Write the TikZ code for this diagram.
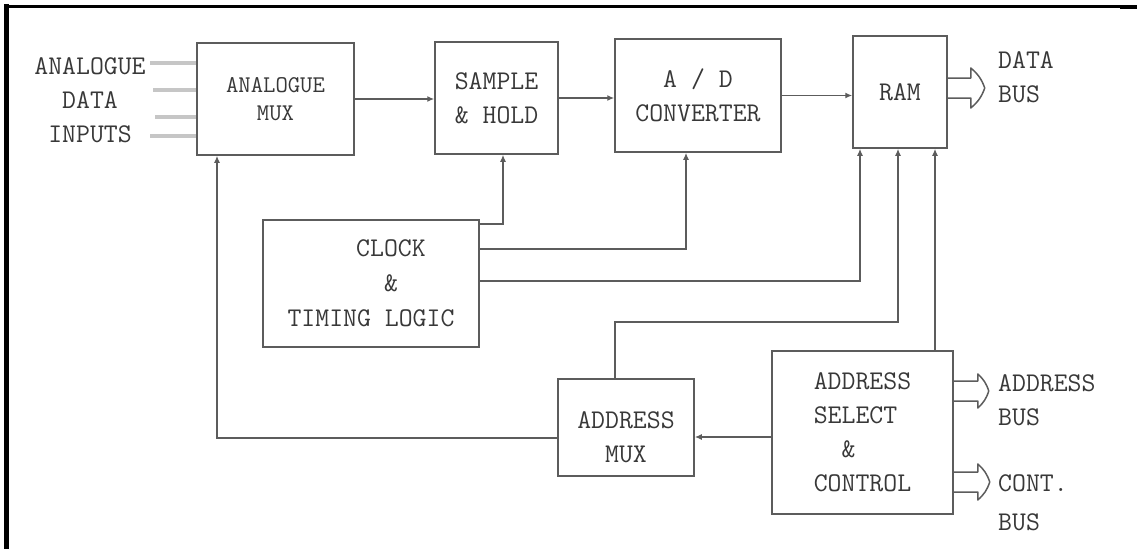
\documentclass[tikz,border=0pt]{standalone}
\usetikzlibrary{arrows.meta}
\definecolor{ink}{gray}{0.36}
\definecolor{txt}{gray}{0.22}
\begin{document}
\begin{tikzpicture}[x=1pt,y=-1pt,
  bigfont/.style={font=\ttfamily\fontsize{27}{34}\selectfont},
  box/.style={draw=ink, line width=1.5pt, inner sep=0pt, bigfont, text=txt, align=center},
  conn/.style={draw=ink, line width=1.5pt},
  arr/.style={conn, -{Latex[length=7pt,width=6pt]}},
  bus/.style={draw=ink, line width=1.5pt, line join=round},
  inp/.style={draw=gray!45, line width=3.5pt},
  lbl/.style={bigfont, text=txt, inner sep=0pt}]
\useasboundingbox (0,0) rectangle (1137,549);
\fill[white] (0,0) rectangle (1137,549);
% frame
\draw[line width=5pt] (6.5,4) -- (6.5,549);
\draw[line width=3pt] (4,6.5) -- (1137,6.5);
\draw[line width=4pt] (1120,7) -- (1137,7);

% boxes
\node[box, minimum width=157pt, minimum height=112pt, font=\ttfamily\fontsize{24}{28}\selectfont] (amux) at (275.5,99) {ANALOGUE\\MUX};
\node[box, minimum width=123pt, minimum height=112pt] (sh) at (496.5,98) {SAMPLE\\\& HOLD};
\node[box, minimum width=166pt, minimum height=113pt] (ad) at (698,95.5) {A / D\\CONVERTER};
\node[box, minimum width=94pt, minimum height=112pt] (ram) at (900,92) {RAM};
\node[box, minimum width=216pt, minimum height=127pt, font=\ttfamily\fontsize{27}{35}\selectfont] (clk) at (371,283.5) {\hspace*{40pt}CLOCK\\\hspace*{40pt}\&\\TIMING LOGIC};
\node[box, minimum width=136pt, minimum height=97pt] (amx) at (626,427.5) {};
\node[lbl, align=center] (amxt) at (626,437) {ADDRESS\\MUX};
\node[box, minimum width=181pt, minimum height=163pt, align=left] (asc) at (862.5,432.5) {ADDRESS\\SELECT\\~~\&\\CONTROL};

% labels
\node[lbl, align=center] (inlbl) at (90,100) {ANALOGUE\\DATA\\INPUTS};
\node[lbl, align=left, anchor=west] (dbus) at (998,77.5) {DATA\\BUS};
\node[lbl, align=left, anchor=west] (abus) at (998,400.5) {ADDRESS\\BUS};
\node[lbl, align=left, anchor=west, font=\ttfamily\fontsize{27}{39}\selectfont] (cbus) at (998,502.5) {CONT.\\BUS};

% analogue inputs
\coordinate (i1) at (150,63);
\coordinate (i2) at (153,90);
\coordinate (i3) at (155,117);
\coordinate (i4) at (150,136);
\draw[inp] (i1) -- (i1 -| amux.west);
\draw[inp] (i2) -- (i2 -| amux.west);
\draw[inp] (i3) -- (i3 -| amux.west);
\draw[inp] (i4) -- (i4 -| amux.west);

% main chain
\draw[arr] (amux.east) -- (amux.east -| sh.west);
\draw[arr] (sh.east) -- (sh.east -| ad.west);
\draw[arr] (ad.east) -- (ad.east -| ram.west);

% clock outputs
\coordinate (c1) at (503,224);
\coordinate (c2) at (686,249);
\coordinate (c3) at (860,281);
\draw[arr] (c1 -| clk.east) -- (c1) -- (c1 |- sh.south);
\draw[arr] (c2 -| clk.east) -- (c2) -- (c2 |- ad.south);
\draw[arr] (c3 -| clk.east) -- (c3) -- (c3 |- ram.south);

% address mux to RAM
\coordinate (c4a) at (615,322);
\coordinate (c4) at (898,322);
\draw[arr] (c4a |- amx.north) -- (c4a) -- (c4) -- (c4 |- ram.south);

% address select to RAM
\coordinate (c5) at (935,300);
\draw[arr] (c5 |- asc.north) -- (c5 |- ram.south);

% address select to address mux
\coordinate (c6) at (700,437);
\draw[arr] (c6 -| asc.west) -- (c6 -| amx.east);

% address mux back to analogue mux
\coordinate (c7) at (217,438);
\draw[arr] (c7 -| amx.west) -- (c7) -- (c7 |- amux.south);

% bus arrows
\coordinate (b1) at (900,88);
\coordinate (b2) at (900,391);
\coordinate (b3) at (900,482);
\draw[bus] (b1 -| ram.east) ++(0,-10) -- ++(23,0) -- ++(0,-10) to[bend left=15] ++(14,20) to[bend left=15] ++(-14,20) -- ++(0,-10) -- ++(-23,0);
\draw[bus] (b2 -| asc.east) ++(0,-10) -- ++(24,0) -- ++(0,-7) to[bend left=15] ++(11,17) to[bend left=15] ++(-11,17) -- ++(0,-7) -- ++(-24,0);
\draw[bus] (b3 -| asc.east) ++(0,-10) -- ++(24,0) -- ++(0,-8) to[bend left=15] ++(12,18) to[bend left=15] ++(-12,18) -- ++(0,-8) -- ++(-24,0);
\end{tikzpicture}
\end{document}
